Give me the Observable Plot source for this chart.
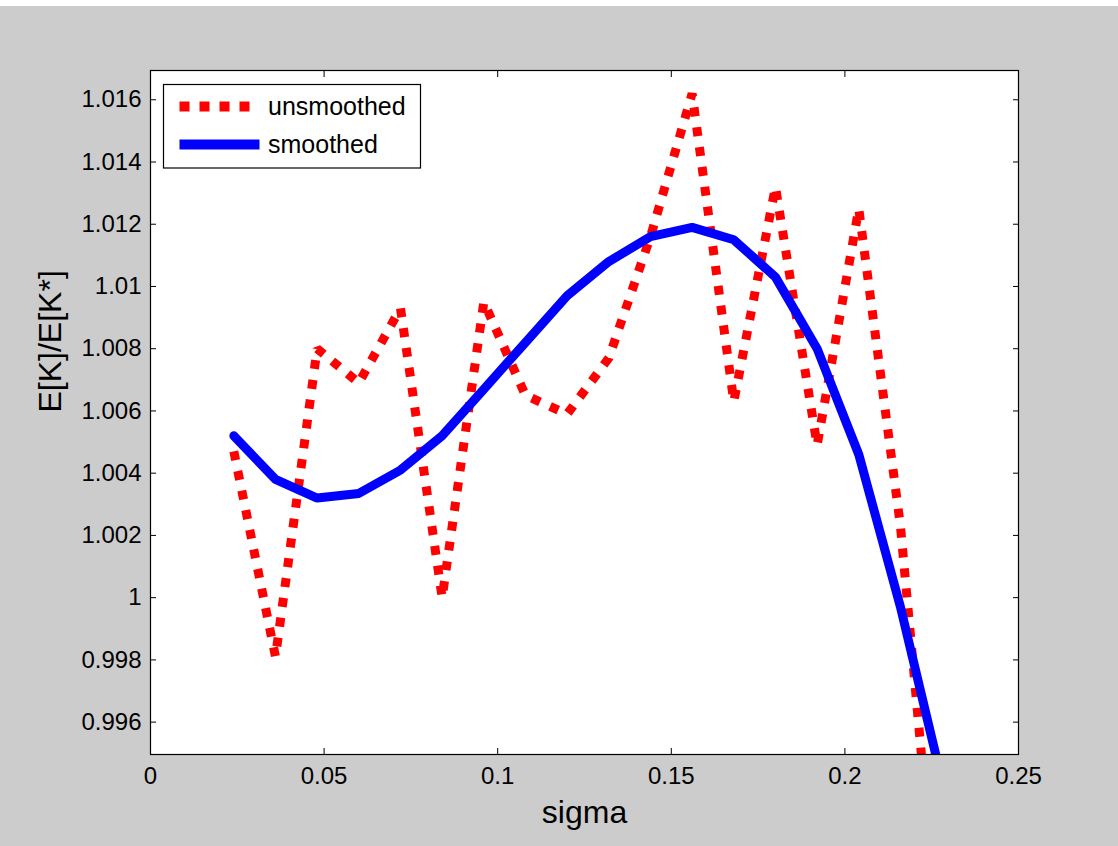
<!DOCTYPE html>
<html>
<head>
<meta charset="utf-8">
<script src="https://cdn.jsdelivr.net/npm/d3@7"></script>
<script src="https://cdn.jsdelivr.net/npm/@observablehq/plot@0.6"></script>
<style>
  html, body { margin: 0; padding: 0; background: #ffffff; width: 1118px; height: 846px; overflow: hidden; }
  #wrap { position: relative; width: 1118px; height: 846px; }
  #strip { height: 6px; background: #ffffff; }
  #chart svg { display: block; }
  #legend { position: absolute; left: 0; top: 0; pointer-events: none; }
</style>
</head>
<body>
<div id="wrap">
  <div id="strip"></div>
  <div id="chart"></div>
  <svg id="legend" width="1118" height="846"></svg>
</div>
<script>
// ---- data ----
const sigma = [0.024, 0.036, 0.048, 0.060, 0.072, 0.084, 0.096, 0.108, 0.120,
               0.132, 0.144, 0.156, 0.168, 0.180, 0.192, 0.204, 0.216, 0.228];
const unsmoothed = [1.0047, 0.9981, 1.0080, 1.0069, 1.0093, 1.0000, 1.0095, 1.0065, 1.0059,
                    1.0077, 1.0116, 1.0162, 1.0063, 1.0132, 1.0049, 1.0125, 1.0023, 0.9877];
const smoothed = [1.0052, 1.0038, 1.0032, 1.00335, 1.0041, 1.0052, 1.0067, 1.0082, 1.0097,
                  1.0108, 1.0116, 1.0119, 1.0115, 1.0103, 1.0080, 1.0046, 0.9997, 0.9941];
const xTicks = [0, 0.05, 0.1, 0.15, 0.2, 0.25];
const yTicks = [0.996, 0.998, 1.000, 1.002, 1.004, 1.006, 1.008, 1.010, 1.012, 1.014, 1.016];
const seriesNames = ["unsmoothed", "smoothed"];
const xLabel = "sigma";
const yLabel = "E[K]/E[K*]";

const redData = sigma.map((s, i) => ({sigma: s, value: unsmoothed[i]}));
const blueData = sigma.map((s, i) => ({sigma: s, value: smoothed[i]}));
const fmt = d => String(+d.toFixed(3));
const blank = () => "";

const chart = Plot.plot({
  width: 1118,
  height: 840,
  marginLeft: 150,
  marginRight: 100,
  marginTop: 64,
  marginBottom: 92,
  style: {background: "#cccccc", fontFamily: "'Liberation Sans', Arial, Helvetica, sans-serif", fontSize: "24px", color: "#000"},
  x: {domain: [0, 0.25]},
  y: {domain: [0.99496, 1.01694]},
  marks: [
    Plot.frame({fill: "white", stroke: "none"}),
    Plot.line(redData, {x: "sigma", y: "value", stroke: "#ff0000", strokeWidth: 9,
      strokeDasharray: "9,11", strokeLinecap: "butt", strokeLinejoin: "miter", clip: true}),
    Plot.line(blueData, {x: "sigma", y: "value", stroke: "#0000ff", strokeWidth: 9,
      strokeLinejoin: "miter", clip: true}),
    // inward tick marks on all four sides
    Plot.axisX({anchor: "bottom", ticks: xTicks, tickSize: -6, tickFormat: blank, label: null}),
    Plot.axisX({anchor: "top", ticks: xTicks, tickSize: -6, tickFormat: blank, label: null}),
    Plot.axisY({anchor: "left", ticks: yTicks, tickSize: -6, tickFormat: blank, label: null}),
    Plot.axisY({anchor: "right", ticks: yTicks, tickSize: -6, tickFormat: blank, label: null}),
    // tick labels
    Plot.axisX({anchor: "bottom", ticks: xTicks, tickSize: 0, tickPadding: 12, tickFormat: fmt, label: null}),
    Plot.axisY({anchor: "left", ticks: yTicks, tickSize: 0, tickPadding: 9, tickFormat: fmt, label: null}),
    Plot.frame({stroke: "black", strokeWidth: 1.2}),
    // axis titles
    Plot.text([xLabel], {frameAnchor: "bottom", dy: 46, lineAnchor: "top", fontSize: 32, fill: "black"}),
    Plot.text([yLabel], {frameAnchor: "left", dx: -100, rotate: -90, fontSize: 32, fill: "black"})
  ]
});
document.getElementById("chart").appendChild(chart);

// ---- legend (decoration) ----
const lg = d3.select("#legend");
const g = lg.append("g").attr("font-family", "'Liberation Sans', Arial, Helvetica, sans-serif");
g.append("rect").attr("x", 163.5).attr("y", 84.5).attr("width", 257).attr("height", 83.5)
  .attr("fill", "white").attr("stroke", "black").attr("stroke-width", 1.2);
const legendItems = [
  {name: seriesNames[0], color: "#ff0000", dash: "10,10", y: 106.5},
  {name: seriesNames[1], color: "#0000ff", dash: null, y: 144.5}
];
legendItems.forEach(it => {
  const ln = g.append("line").attr("x1", 179.5).attr("x2", 259.5).attr("y1", it.y).attr("y2", it.y)
    .attr("stroke", it.color).attr("stroke-width", 10);
  if (it.dash) ln.attr("stroke-dasharray", it.dash);
  g.append("text").attr("x", 268).attr("y", it.y + 8.5).attr("font-size", 25).attr("fill", "black").text(it.name);
});
</script>
</body>
</html>
